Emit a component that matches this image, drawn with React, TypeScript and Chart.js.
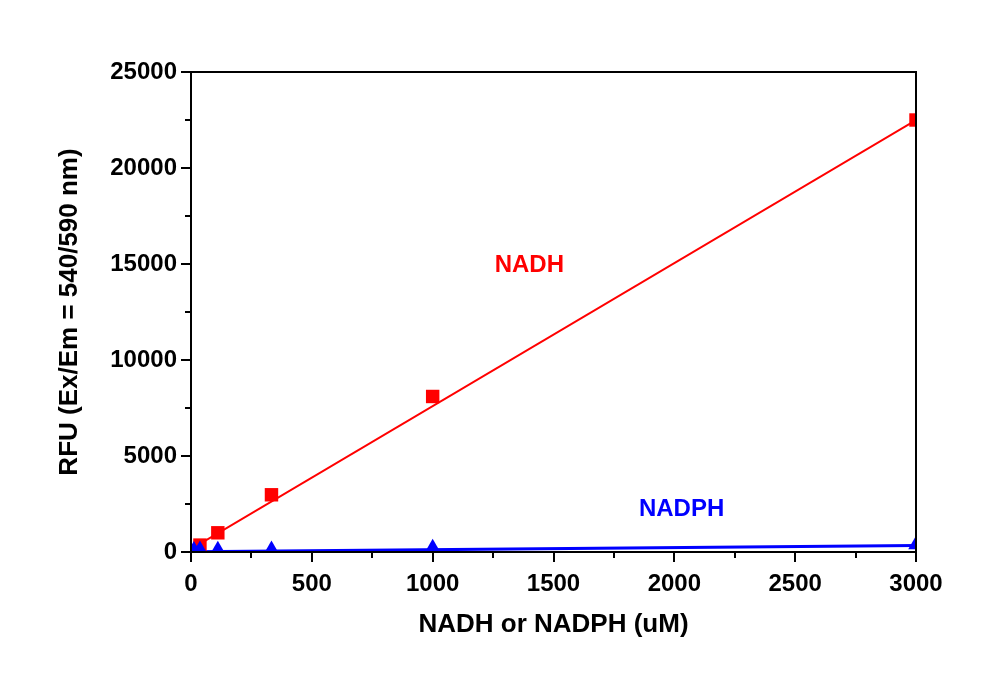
import React, { useEffect, useRef } from 'react';
import { Chart, registerables } from 'chart.js';

Chart.register(...registerables);

// concentrations (uM), 3-fold dilution series
const nadhConc = [37, 111, 333, 1000, 3000];
const nadhRfu = [360, 1000, 2980, 8100, 22500];
const nadphConc = [12, 37, 111, 333, 1000, 3000];
const nadphRfu = [110, 130, 120, 130, 220, 380];

// linear fit end points
const fitConc = [0, 3000];
const nadhFit = [150, 22500];
const nadphFit = [10, 340];

// in-plot labels: [x, y] in data units
const nadhLabelPos = [1400, 14950];
const nadphLabelPos = [2030, 2200];

const FONT = '"Liberation Sans", Arial, sans-serif';

const pairs = (xs: number[], ys: number[]) => xs.map((x, i) => ({ x, y: ys[i] }));

// frame, minor/major ticks and text labels
const decorPlugin = {
  id: 'decor',
  afterDraw(chart: any) {
    const { ctx, chartArea: a, scales } = chart;
    const x = scales.x;
    const y = scales.y;
    ctx.save();
    ctx.strokeStyle = '#000';
    ctx.lineWidth = 2;
    ctx.strokeRect(a.left, a.top, a.right - a.left, a.bottom - a.top);

    ctx.lineWidth = 2;
    ctx.beginPath();
    x.ticks.forEach((t: any) => {
      const px = Math.round(x.getPixelForValue(t.value));
      const len = t.value % 500 === 0 ? 10 : 6;
      ctx.moveTo(px, a.bottom);
      ctx.lineTo(px, a.bottom + len);
    });
    y.ticks.forEach((t: any) => {
      const py = Math.round(y.getPixelForValue(t.value));
      const len = t.value % 5000 === 0 ? 10 : 6;
      ctx.moveTo(a.left, py);
      ctx.lineTo(a.left - len, py);
    });
    ctx.stroke();

    ctx.font = `bold 24px ${FONT}`;
    ctx.textAlign = 'center';
    ctx.textBaseline = 'middle';
    ctx.fillStyle = '#ff0000';
    ctx.fillText('NADH', x.getPixelForValue(nadhLabelPos[0]), y.getPixelForValue(nadhLabelPos[1]));
    ctx.fillStyle = '#0000ff';
    ctx.fillText('NADPH', x.getPixelForValue(nadphLabelPos[0]), y.getPixelForValue(nadphLabelPos[1]));
    ctx.restore();
  },
};

export default function App() {
  const canvasRef = useRef<HTMLCanvasElement | null>(null);

  useEffect(() => {
    if (!canvasRef.current) return;
    const chart = new Chart(canvasRef.current, {
      type: 'scatter',
      data: {
        datasets: [
          {
            label: 'NADH fit',
            type: 'line',
            data: pairs(fitConc, nadhFit),
            borderColor: '#ff0000',
            borderWidth: 2,
            pointRadius: 0,
            clip: 0,
            order: 2,
          },
          {
            label: 'NADPH fit',
            type: 'line',
            data: pairs(fitConc, nadphFit),
            borderColor: '#0000ff',
            borderWidth: 3,
            pointRadius: 0,
            clip: 0,
            order: 2,
          },
          {
            label: 'NADH',
            data: pairs(nadhConc, nadhRfu),
            pointStyle: 'rect',
            pointRadius: 9.5,
            backgroundColor: '#ff0000',
            borderColor: '#ff0000',
            borderWidth: 0,
            clip: 0,
            order: 1,
          },
          {
            label: 'NADPH',
            data: pairs(nadphConc, nadphRfu),
            pointStyle: 'triangle',
            pointRadius: 9,
            backgroundColor: '#0000ff',
            borderColor: '#0000ff',
            borderWidth: 0,
            clip: 0,
            order: 0,
          },
        ] as any,
      },
      options: {
        animation: false,
        responsive: true,
        maintainAspectRatio: false,
        layout: { padding: { left: 54, top: 72, right: 84, bottom: 0 } },
        plugins: {
          legend: { display: false },
          tooltip: { enabled: false },
        },
        scales: {
          x: {
            type: 'linear',
            min: 0,
            max: 3000,
            afterFit: (s: any) => { s.height = 142; },
            grid: { display: true, drawOnChartArea: false, drawTicks: true, tickLength: 10, tickColor: 'transparent' },
            border: { display: true, color: '#000', width: 2 },
            ticks: {
              stepSize: 250,
              autoSkip: false,
              maxRotation: 0,
              padding: 8,
              color: '#000',
              font: { family: FONT, size: 24, weight: 'bold' },
              callback: (v: any) => (Number(v) % 500 === 0 ? String(v) : ''),
            },
            title: {
              display: true,
              text: 'NADH or NADPH (uM)',
              color: '#000',
              font: { family: FONT, size: 26, weight: 'bold' },
              padding: { top: 0, bottom: 54 },
            },
          },
          y: {
            type: 'linear',
            min: 0,
            max: 25000,
            afterFit: (s: any) => { s.width = 137; },
            grid: { display: true, drawOnChartArea: false, drawTicks: true, tickLength: 10, tickColor: 'transparent' },
            border: { display: true, color: '#000', width: 2 },
            ticks: {
              stepSize: 2500,
              autoSkip: false,
              padding: 4,
              color: '#000',
              font: { family: FONT, size: 24, weight: 'bold' },
              callback: (v: any) => (Number(v) % 5000 === 0 ? String(v) : ''),
            },
            title: {
              display: true,
              text: 'RFU (Ex/Em = 540/590 nm)',
              color: '#000',
              font: { family: FONT, size: 26, weight: 'bold' },
              padding: { top: 0, bottom: 0 },
            },
          },
        },
      },
      plugins: [decorPlugin],
    });
    return () => chart.destroy();
  }, []);

  return (
    <div style={{ position: 'fixed', left: 0, top: 0, width: 1000, height: 694, background: '#fff' }}>
      <canvas ref={canvasRef} />
    </div>
  );
}
